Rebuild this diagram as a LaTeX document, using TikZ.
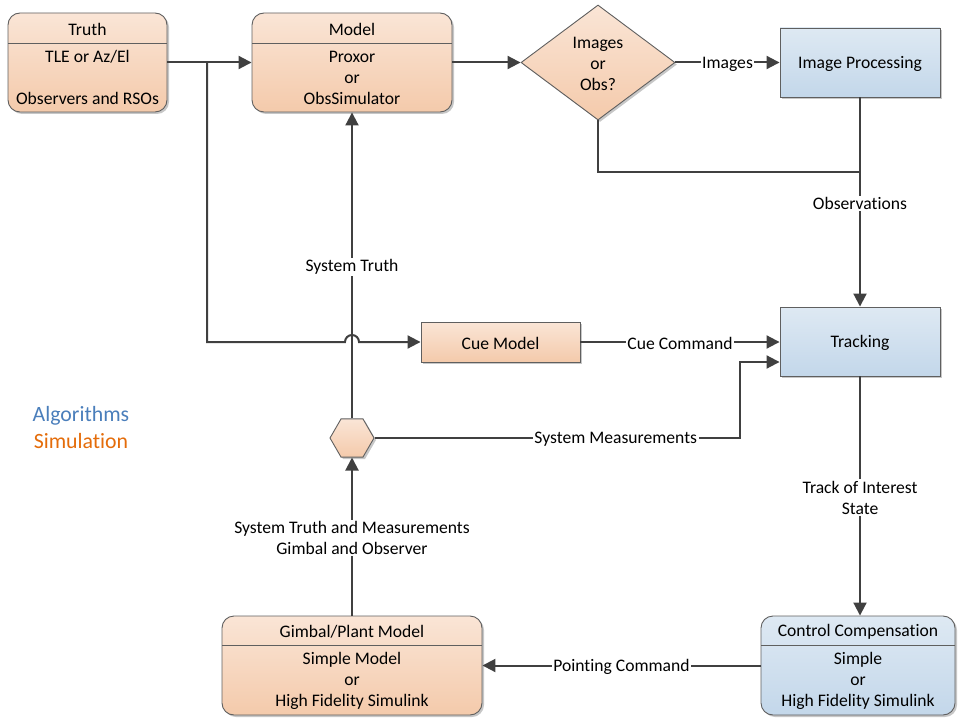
\documentclass[tikz,border=0pt]{standalone}
\usepackage{fontspec}
\setmainfont{Carlito}[Ligatures=NoCommon]
\usetikzlibrary{arrows.meta,shapes.geometric,shadows,calc}

\definecolor{simtop}{HTML}{FAE5D6}
\definecolor{simbot}{HTML}{F4CAAB}
\definecolor{algtop}{HTML}{DEE9F3}
\definecolor{algbot}{HTML}{C3D7EA}
\definecolor{edge}{HTML}{404040}
\definecolor{frame}{HTML}{5F5F5F}
\definecolor{algtext}{HTML}{4A7EBB}
\definecolor{simtext}{HTML}{E46C0A}

\begin{document}
\begin{tikzpicture}[x=1pt,y=-1pt,
  boxbase/.style={draw=frame, line width=0.9pt, inner sep=0pt,
    drop shadow={shadow xshift=2pt, shadow yshift=-2pt, opacity=0.22, fill=black}},
  sim/.style={boxbase, top color=simtop, bottom color=simbot},
  alg/.style={boxbase, top color=algtop, bottom color=algbot},
  roundbox/.style={rectangle, rounded corners=12pt},
  txt/.style={font=\fontsize{17.6}{21}\selectfont, align=center, inner sep=0pt, text=black, yshift=-1.5pt},
  divider/.style={draw=frame, line width=0.9pt},
  wire/.style={draw=edge, line width=2pt},
  arr/.style={wire, -{Triangle[length=13pt,width=13pt]}},
  lbl/.style={txt, fill=white, inner sep=1.5pt},
  legend/.style={font=\fontsize{21.8}{26}\selectfont, inner sep=0pt, yshift=-1.5pt}
]
\useasboundingbox (0,0) rectangle (958,719);

% ---- boxes ----
\node[sim, roundbox, minimum width=159pt, minimum height=99pt] (truth) at (87.5,62.5) {};
\draw[divider] (8,43) -- (167,43);
\node[txt] (truthT) at (87.5,28) {Truth};
\node[txt] (truthB) at (87.5,76) {TLE or Az/El\\ \strut \\Observers and RSOs};

\node[sim, roundbox, minimum width=200pt, minimum height=99pt] (model) at (352,62.5) {};
\draw[divider] (252,43) -- (452,43);
\node[txt] (modelT) at (352,28) {Model};
\node[txt] (modelB) at (352,76) {Proxor\\or\\ObsSimulator};

\node[sim, diamond, aspect=1.34, minimum width=154pt, minimum height=115pt] (dec) at (598,62.5) {};
\node[txt] (decT) at (598,62.5) {Images\\or\\Obs?};

\node[alg, rectangle, minimum width=160pt, minimum height=69pt] (imgp) at (860,62.5) {};
\node[txt] (imgpT) at (860,62.5) {Image Processing};

\node[alg, rectangle, minimum width=160pt, minimum height=69pt] (trk) at (860,341.5) {};
\node[txt] (trkT) at (860,341.5) {Tracking};

\node[sim, rectangle, minimum width=159pt, minimum height=40pt] (cue) at (500.5,342) {};
\node[txt] (cueT) at (500.5,342) {Cue Model};

\node[sim, regular polygon, regular polygon sides=6, minimum size=44pt] (hex) at (352,438) {};

\node[sim, roundbox, minimum width=260pt, minimum height=99pt] (gim) at (352,665.5) {};
\draw[divider] (222,645) -- (482,645);
\node[txt] (gimT) at (352,630) {Gimbal/Plant Model};
\node[txt] (gimB) at (352,679) {Simple Model\\or\\High Fidelity Simulink};

\node[alg, roundbox, minimum width=194pt, minimum height=99pt] (ctl) at (858,665.5) {};
\draw[divider] (761,645) -- (955,645);
\node[txt] (ctlT) at (858,630) {Control Compensation};
\node[txt] (ctlB) at (858,679) {Simple\\or\\High Fidelity Simulink};

% ---- legend ----
\node[legend, text=algtext] (legA) at (81,414) {Algorithms};
\node[legend, text=simtext] (legS) at (81,440) {Simulation};

% ---- connectors ----
\coordinate (j1) at (207,62.5);
\coordinate (jm) at (860,172);
\coordinate (trkin) at ($(trk.west)+(0,20.5)$);

\draw[arr] (truth) -- (model);
\draw[arr] (j1) -- (207,342) -- (345,342) arc[start angle=180, end angle=360, radius=7] -- (cue.west);
\draw[arr] (model) -- (dec);
\draw[arr] (dec) -- node[lbl]{Images} (imgp);
\draw[wire] (dec.south) |- (jm);
\draw[arr] (imgp) -- node[lbl]{Observations} (trk);
\draw[arr] (cue) -- node[lbl]{Cue Command} (trk.west |- cue);
\draw[arr] (hex) -- node[lbl,pos=0.66]{System Measurements} (740,438) |- (trkin);
\draw[arr] (hex) -- node[lbl]{System Truth} (model);
\draw[arr] (gim) -- node[lbl]{System Truth and Measurements\\Gimbal and Observer} (hex);
\draw[arr] (trk.south) -- node[lbl]{Track of Interest\\State} (trk.south |- ctl.north);
\draw[arr] (ctl) -- node[lbl]{Pointing Command} (gim);
\end{tikzpicture}
\end{document}
